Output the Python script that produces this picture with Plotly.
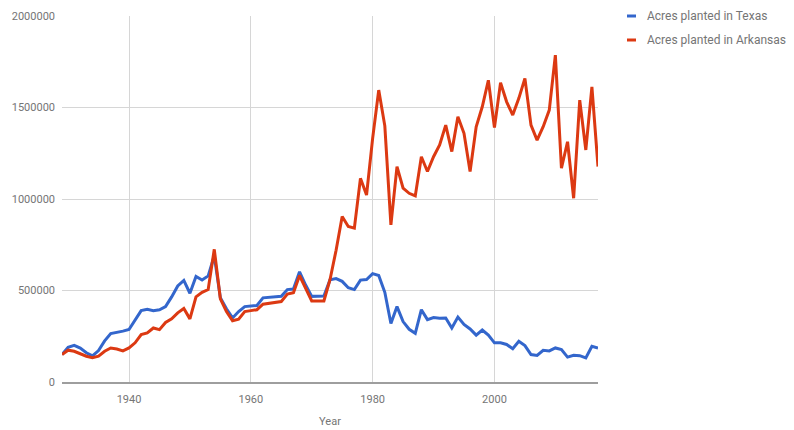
import plotly.graph_objects as go

# Rice acreage planted per year, 1929-2017
years = list(range(1929, 2018))

texas_acres = [
    150000, 190000, 200000, 185000, 160000, 143000, 172000, 225000, 265000, 270000,
    278000, 287000, 340000, 390000, 398000, 390000, 395000, 412000, 465000, 525000,
    555000, 485000, 577000, 557000, 580000, 690000, 460000, 400000, 350000, 385000,
    412000, 415000, 418000, 460000, 462000, 465000, 468000, 505000, 508000, 602000,
    530000, 468000, 468000, 470000, 558000, 565000, 550000, 515000, 505000, 557000,
    560000, 592000, 582000, 490000, 320000, 412000, 330000, 288000, 266000, 395000,
    341000, 352000, 348000, 350000, 295000, 355000, 315000, 290000, 256000, 284000,
    256000, 214000, 214000, 205000, 182000, 223000, 199000, 150000, 145000, 173000,
    170000, 186000, 177000, 136000, 146000, 144000, 132000, 195000, 186000,
]

arkansas_acres = [
    150000, 174000, 168000, 155000, 141000, 133000, 141000, 168000, 186000, 180000,
    170000, 186000, 214000, 259000, 268000, 295000, 286000, 325000, 345000, 378000,
    402000, 345000, 465000, 490000, 505000, 725000, 455000, 385000, 335000, 343000,
    385000, 390000, 395000, 425000, 430000, 435000, 440000, 480000, 488000, 582000,
    510000, 443000, 442000, 443000, 559000, 720000, 904000, 850000, 841000, 1113000,
    1022000, 1331000, 1595000, 1400000, 859000, 1177000, 1059000, 1031000, 1017000, 1231000,
    1150000, 1231000, 1295000, 1404000, 1259000, 1449000, 1359000, 1150000, 1395000, 1504000,
    1649000, 1390000, 1635000, 1531000, 1459000, 1550000, 1659000, 1404000, 1322000, 1395000,
    1486000, 1786000, 1168000, 1313000, 1004000, 1540000, 1268000, 1613000, 1177000,
]

series_names = ["Acres planted in Texas", "Acres planted in Arkansas"]
series_values = [texas_acres, arkansas_acres]
series_colors = ["#3366cc", "#dc3912"]

x_ticks = [1940, 1960, 1980, 2000]
y_ticks = [0, 500000, 1000000, 1500000, 2000000]

FONT = "Roboto, Arial, sans-serif"
TEXT_GRAY = "#757575"

fig = go.Figure()
for name, vals, color in zip(series_names, series_values, series_colors):
    fig.add_trace(go.Scatter(
        x=years, y=vals, name=name, mode="lines",
        line=dict(color=color, width=3),
        showlegend=False,
    ))

W, H = 794, 430
ML, MR, MT, MB = 62, 196, 16, 48
plot_w = W - ML - MR
plot_h = H - MT - MB


def px_to_paper(px, py):
    return (px - ML) / plot_w, 1 - (py - MT) / plot_h


# Legend on the right: short colored dash followed by the series name
shapes = []
annotations = []
for i, (name, color) in enumerate(zip(series_names, series_colors)):
    row_y = 16 + i * 24
    x0, y0 = px_to_paper(627, row_y)
    x1, _ = px_to_paper(636, row_y)
    shapes.append(dict(type="line", xref="paper", yref="paper",
                       x0=x0, x1=x1, y0=y0, y1=y0,
                       line=dict(color=color, width=3)))
    tx, ty = px_to_paper(645, row_y)
    annotations.append(dict(xref="paper", yref="paper", x=tx, y=ty,
                            text=name, showarrow=False, xanchor="left",
                            yanchor="middle",
                            font=dict(family=FONT, size=12, color=TEXT_GRAY)))

fig.update_layout(
    width=W, height=H,
    margin=dict(l=ML, r=MR, t=MT, b=MB, pad=0),
    paper_bgcolor="white", plot_bgcolor="white",
    font=dict(family=FONT, size=11, color=TEXT_GRAY),
    shapes=shapes,
    annotations=annotations,
    xaxis=dict(
        range=[1929, 2017], tickmode="array", tickvals=x_ticks,
        ticktext=[str(v) for v in x_ticks],
        showgrid=True, gridcolor="#d6d6d6", gridwidth=1,
        zeroline=False, showline=True, linecolor="#9e9e9e", linewidth=2,
        ticks="", ticklabelstandoff=6, automargin=False,
        tickfont=dict(family=FONT, size=11, color=TEXT_GRAY),
        title=dict(text="Year", standoff=12,
                   font=dict(family=FONT, size=11, color=TEXT_GRAY)),
    ),
    yaxis=dict(
        range=[0, 2000000], tickmode="array", tickvals=y_ticks,
        ticktext=[str(v) for v in y_ticks],
        showgrid=True, gridcolor="#d6d6d6", gridwidth=1,
        zeroline=False, showline=False, ticks="", ticklabelstandoff=6,
        automargin=False,
        tickfont=dict(family=FONT, size=11, color=TEXT_GRAY),
    ),
)

fig.write_html("out.html")
